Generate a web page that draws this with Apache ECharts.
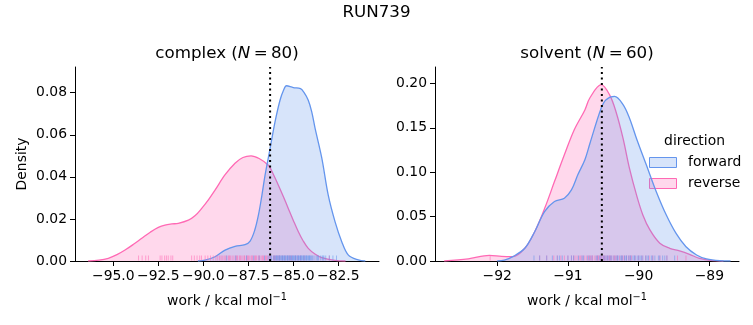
<!DOCTYPE html>
<html>
<head>
<meta charset="utf-8">
<script src="https://cdn.jsdelivr.net/npm/echarts@6/dist/echarts.min.js"></script>
<style>
html, body { margin: 0; padding: 0; background: #fff; }
#chart { width: 753px; height: 325px; }
</style>
</head>
<body>
<div id="chart"></div>
<script>
// ---- KDE curves (work in kcal/mol, density) ----
const complexReverseX = [-96.4, -95.8, -95.28, -94.8, -94.35, -93.9, -93.42, -92.95, -92.5, -92.13, -91.75, -91.39, -90.83, -90.45, -90.09, -89.7, -89.35, -88.79, -88.24, -87.8, -87.35, -86.9, -86.39, -86.1, -85.83, -85.55, -85.28, -85.0, -84.72, -84.45, -84.17, -83.8, -83.42, -82.68, -82.1];
const complexReverseY = [0, 0.0004, 0.0013, 0.003, 0.0052, 0.0078, 0.0108, 0.0137, 0.016, 0.0171, 0.0176, 0.0179, 0.0194, 0.0216, 0.025, 0.0293, 0.0337, 0.041, 0.0465, 0.0492, 0.050, 0.0487, 0.0455, 0.041, 0.036, 0.0305, 0.025, 0.0193, 0.0139, 0.0095, 0.006, 0.0033, 0.0016, 0.0003, 0];

const complexForwardX = [-90.3, -89.91, -89.35, -88.79, -88.24, -87.68, -87.4, -87.15, -86.94, -86.75, -86.57, -86.29, -86.02, -85.74, -85.55, -85.38, -85.0, -84.6, -84.4, -84.17, -83.98, -83.79, -83.42, -83.06, -82.68, -82.31, -81.94, -81.39, -81.0];
const complexForwardY = [0, 0.0004, 0.002, 0.0052, 0.007, 0.0078, 0.0095, 0.0145, 0.0218, 0.031, 0.0408, 0.0535, 0.066, 0.0764, 0.081, 0.0833, 0.0824, 0.0819, 0.080, 0.0764, 0.071, 0.063, 0.049, 0.0313, 0.0186, 0.0092, 0.0028, 0.0005, 0];

const solventReverseX = [-92.75, -92.41, -92.11, -91.94, -91.78, -91.61, -91.47, -91.33, -91.19, -91.05, -90.91, -90.76, -90.69, -90.53, -90.41, -90.32, -90.22, -90.13, -90.03, -89.94, -89.84, -89.7, -89.56, -89.42, -89.28, -89.14, -88.95, -88.8];
const solventReverseY = [0, 0.0023, 0.0064, 0.0052, 0.0049, 0.0143, 0.033, 0.059, 0.0894, 0.1195, 0.1477, 0.170, 0.1835, 0.1985, 0.187, 0.168, 0.138, 0.1045, 0.0744, 0.0519, 0.035, 0.020, 0.0143, 0.0113, 0.0075, 0.003, 0.0005, 0];

const solventForwardX = [-92.0, -91.9, -91.78, -91.61, -91.47, -91.33, -91.19, -91.05, -90.95, -90.86, -90.76, -90.69, -90.53, -90.46, -90.34, -90.22, -90.13, -90.03, -89.89, -89.75, -89.61, -89.47, -89.33, -89.18, -89.04, -88.85, -88.7];
const solventForwardY = [0, 0.001, 0.0049, 0.0143, 0.033, 0.0556, 0.0669, 0.0707, 0.080, 0.097, 0.114, 0.132, 0.172, 0.1816, 0.1853, 0.176, 0.161, 0.138, 0.108, 0.078, 0.052, 0.031, 0.016, 0.0068, 0.0023, 0.0003, 0];

// ---- individual work samples (rug) ----
const complexReverseWork = [-93.6, -93.4, -93.2, -93.05, -92.4, -92.3, -92.15, -92.05, -91.95, -91.8, -91.7, -90.65, -90.5, -90.35, -90.2, -90.1, -89.6, -89.45, -89.3, -89.2, -89.1, -88.95, -88.85, -88.7, -88.6, -88.5, -88.4, -88.3, -88.2, -88.1, -88.0, -87.9, -87.8, -87.7, -87.6, -87.5, -87.45, -87.35, -87.25, -87.15, -87.05, -86.95, -86.85, -86.75, -86.65, -86.55, -86.45, -86.35, -86.25, -86.1, -86.0, -85.9, -85.75, -85.6, -85.45, -85.3, -85.1, -84.9, -84.6, -84.4, -83.0, -89.9, -89.75, -89.02, -88.78, -88.55, -88.15, -87.95, -87.72, -87.55, -87.3, -87.1, -86.9, -86.7, -86.5, -86.3, -86.05, -85.8, -85.2, -84.75];
const complexForwardWork = [-88.7, -88.2, -87.6, -87.2, -86.9, -86.6, -86.4, -86.3, -86.2, -86.1, -86.0, -85.95, -85.9, -85.85, -85.8, -85.75, -85.7, -85.65, -85.6, -85.55, -85.5, -85.45, -85.4, -85.35, -85.3, -85.25, -85.2, -85.15, -85.1, -85.05, -85.0, -84.95, -84.9, -84.85, -84.8, -84.75, -84.7, -84.65, -84.6, -84.55, -84.5, -84.45, -84.4, -84.35, -84.3, -84.25, -84.2, -84.15, -84.1, -84.05, -84.0, -83.9, -83.8, -83.7, -83.6, -83.5, -83.4, -83.3, -83.2, -83.0, -82.8, -82.6, -86.25, -86.05, -85.92, -85.78, -85.62, -85.48, -85.32, -85.18, -85.02, -84.88, -84.72, -84.58, -84.42, -84.28, -84.12, -83.95, -83.65, -83.35];
const solventReverseWork = [-92.1, -91.4, -91.3, -91.2, -91.15, -91.1, -91.05, -91.0, -90.95, -90.9, -90.87, -90.84, -90.8, -90.77, -90.74, -90.71, -90.68, -90.65, -90.62, -90.6, -90.58, -90.56, -90.54, -90.52, -90.5, -90.48, -90.46, -90.44, -90.42, -90.4, -90.38, -90.35, -90.32, -90.3, -90.27, -90.24, -90.2, -90.17, -90.14, -90.1, -90.05, -90.0, -89.95, -89.9, -89.85, -89.8, -89.7, -89.6, -89.45, -89.33, -90.92, -90.82, -90.7, -90.66, -90.57, -90.49, -90.41, -90.34, -90.22, -90.12];
const solventForwardWork = [-91.48, -91.4, -91.3, -91.22, -91.15, -91.08, -91.0, -90.92, -90.85, -90.78, -90.72, -90.66, -90.6, -90.55, -90.5, -90.46, -90.42, -90.38, -90.35, -90.32, -90.29, -90.26, -90.23, -90.2, -90.17, -90.14, -90.11, -90.08, -90.05, -90.02, -89.98, -89.94, -89.9, -89.86, -89.82, -89.77, -89.72, -89.66, -89.6, -89.49, -91.12, -90.95, -90.8, -90.69, -90.58, -90.48, -90.4, -90.3, -90.24, -90.18, -90.12, -90.06, -90.0, -89.96, -89.88, -89.8, -89.7, -89.63, -90.53, -90.44];

// ---- vertical reference (dotted) ----
const complexMark = -86.29;
const solventMark = -90.52;

// ---- axis ranges and ticks ----
const complexXRange = [-97.13, -80.24];
const complexYMax = 0.0922;
const solventXRange = [-92.88, -88.58];
const solventYMax = 0.2184;
const complexXTicks = [-95, -92.5, -90, -87.5, -85, -82.5];
const complexYTicks = [0, 0.02, 0.04, 0.06, 0.08];
const solventXTicks = [-92, -91, -90, -89];
const solventYTicks = [0, 0.05, 0.10, 0.15, 0.20];

const FONT = 'DejaVu Sans';
const BLUE = '#6495ED', PINK = '#FF69B4';
const BLUE_FILL = 'rgba(100,149,237,0.26)', PINK_FILL = 'rgba(255,105,180,0.26)';
const TICK_FS = 13.9, TITLE_FS = 16.7;

const zip = (xs, ys) => xs.map((x, i) => [x, ys[i]]);
const fmt = (v, dec) => (v < 0 ? '\u2212' : '') + Math.abs(v).toFixed(dec);

function kde(name, xs, ys, idx, color, fill, z) {
  return {
    type: 'line', name, xAxisIndex: idx, yAxisIndex: idx, data: zip(xs, ys),
    smooth: 0.35, symbol: 'none', showSymbol: false, silent: true, z,
    lineStyle: { color, width: 1.3 }, itemStyle: { color },
    areaStyle: { color: fill, opacity: 1 }
  };
}

function rug(name, xs, idx, color, z) {
  return {
    type: 'custom', name, xAxisIndex: idx, yAxisIndex: idx, silent: true, z,
    data: xs.map(x => [x, 0]), encode: { x: 0, y: 1 },
    renderItem: (params, api) => {
      const p = api.coord([api.value(0), 0]);
      return {
        type: 'line',
        shape: { x1: p[0], y1: p[1] - 0.5, x2: p[0], y2: p[1] - 5.5 },
        style: { stroke: color, lineWidth: 1, opacity: 0.55 }
      };
    }
  };
}

function vline(x, yMax, idx) {
  return {
    type: 'line', xAxisIndex: idx, yAxisIndex: idx, data: [[x, 0], [x, yMax]],
    symbol: 'none', silent: true, z: 10,
    lineStyle: { color: '#000', width: 2, type: [2.1, 3.4] }
  };
}

const workName = '{a|work / kcal mol}{s|\u22121}';
const nameRich = {
  a: { fontSize: TICK_FS, fontFamily: FONT, color: '#000' },
  s: { fontSize: 9.7, fontFamily: FONT, color: '#000', verticalAlign: 'top', padding: [0, 0, 9, 0] }
};

function xAxis(idx, range, ticks, dec) {
  return {
    type: 'value', gridIndex: idx, min: range[0], max: range[1],
    axisLine: { onZero: false, lineStyle: { color: '#000', width: 1 } },
    axisTick: { show: true, length: 5, lineStyle: { color: '#000', width: 1 }, customValues: ticks },
    axisLabel: { customValues: ticks, formatter: v => fmt(v, dec), color: '#000', fontSize: TICK_FS, fontFamily: FONT, margin: 8 },
    splitLine: { show: false },
    name: workName, nameLocation: 'middle', nameGap: 31,
    nameTextStyle: { rich: nameRich, fontSize: TICK_FS, fontFamily: FONT, color: '#000' }
  };
}

function yAxis(idx, max, ticks, dec, label) {
  return {
    type: 'value', gridIndex: idx, min: 0, max,
    axisLine: { show: true, onZero: false, lineStyle: { color: '#000', width: 1 } },
    axisTick: { show: true, length: 5, lineStyle: { color: '#000', width: 1 }, customValues: ticks },
    axisLabel: { customValues: ticks, formatter: v => v.toFixed(dec), color: '#000', fontSize: TICK_FS, fontFamily: FONT, margin: 8 },
    splitLine: { show: false },
    name: label, nameLocation: 'middle', nameGap: 46, nameRotate: 90,
    nameTextStyle: { fontSize: TICK_FS, fontFamily: FONT, color: '#000' }
  };
}

const titleRich = {
  n: { fontSize: TITLE_FS, fontFamily: FONT, color: '#000' },
  i: { fontSize: TITLE_FS, fontFamily: FONT, color: '#000', fontStyle: 'italic' }
};

const chart = echarts.init(document.getElementById('chart'), null, { renderer: 'canvas' });
chart.setOption({
  animation: false,
  backgroundColor: '#fff',
  grid: [
    { left: 75, top: 67, width: 304, height: 194 },
    { left: 435, top: 67, width: 304, height: 194 }
  ],
  xAxis: [xAxis(0, complexXRange, complexXTicks, 1), xAxis(1, solventXRange, solventXTicks, 0)],
  yAxis: [yAxis(0, complexYMax, complexYTicks, 2, 'Density'), yAxis(1, solventYMax, solventYTicks, 2, '')],
  series: [
    kde('reverse', complexReverseX, complexReverseY, 0, PINK, PINK_FILL, 2),
    kde('forward', complexForwardX, complexForwardY, 0, BLUE, BLUE_FILL, 3),
    rug('reverse', complexReverseWork, 0, PINK, 4),
    rug('forward', complexForwardWork, 0, BLUE, 4),
    vline(complexMark, complexYMax, 0),
    kde('reverse', solventReverseX, solventReverseY, 1, PINK, PINK_FILL, 2),
    kde('forward', solventForwardX, solventForwardY, 1, BLUE, BLUE_FILL, 3),
    rug('reverse', solventReverseWork, 1, PINK, 4),
    rug('forward', solventForwardWork, 1, BLUE, 4),
    vline(solventMark, solventYMax, 1)
  ],
  graphic: [
    { type: 'text', x: 376.5, y: 13, style: { text: 'RUN739', fontSize: TITLE_FS, fontFamily: FONT, fill: '#000', align: 'center', verticalAlign: 'middle' } },
    { type: 'text', x: 227, y: 54, style: { text: '{n|complex (}{i|N}{n|\u2009=\u200980)}', rich: titleRich, align: 'center', verticalAlign: 'middle' } },
    { type: 'text', x: 587, y: 54, style: { text: '{n|solvent (}{i|N}{n|\u2009=\u200960)}', rich: titleRich, align: 'center', verticalAlign: 'middle' } },
    { type: 'text', x: 694.5, y: 141.5, style: { text: 'direction', fontSize: TICK_FS, fontFamily: FONT, fill: '#000', align: 'center', verticalAlign: 'middle' } },
    { type: 'rect', shape: { x: 649.5, y: 157.5, width: 27, height: 10 }, style: { fill: BLUE_FILL, stroke: BLUE, lineWidth: 1 } },
    { type: 'text', x: 688, y: 162.5, style: { text: 'forward', fontSize: TICK_FS, fontFamily: FONT, fill: '#000', align: 'left', verticalAlign: 'middle' } },
    { type: 'rect', shape: { x: 649.5, y: 178.5, width: 27, height: 10 }, style: { fill: PINK_FILL, stroke: PINK, lineWidth: 1 } },
    { type: 'text', x: 688, y: 183.5, style: { text: 'reverse', fontSize: TICK_FS, fontFamily: FONT, fill: '#000', align: 'left', verticalAlign: 'middle' } }
  ]
});
</script>
</body>
</html>
